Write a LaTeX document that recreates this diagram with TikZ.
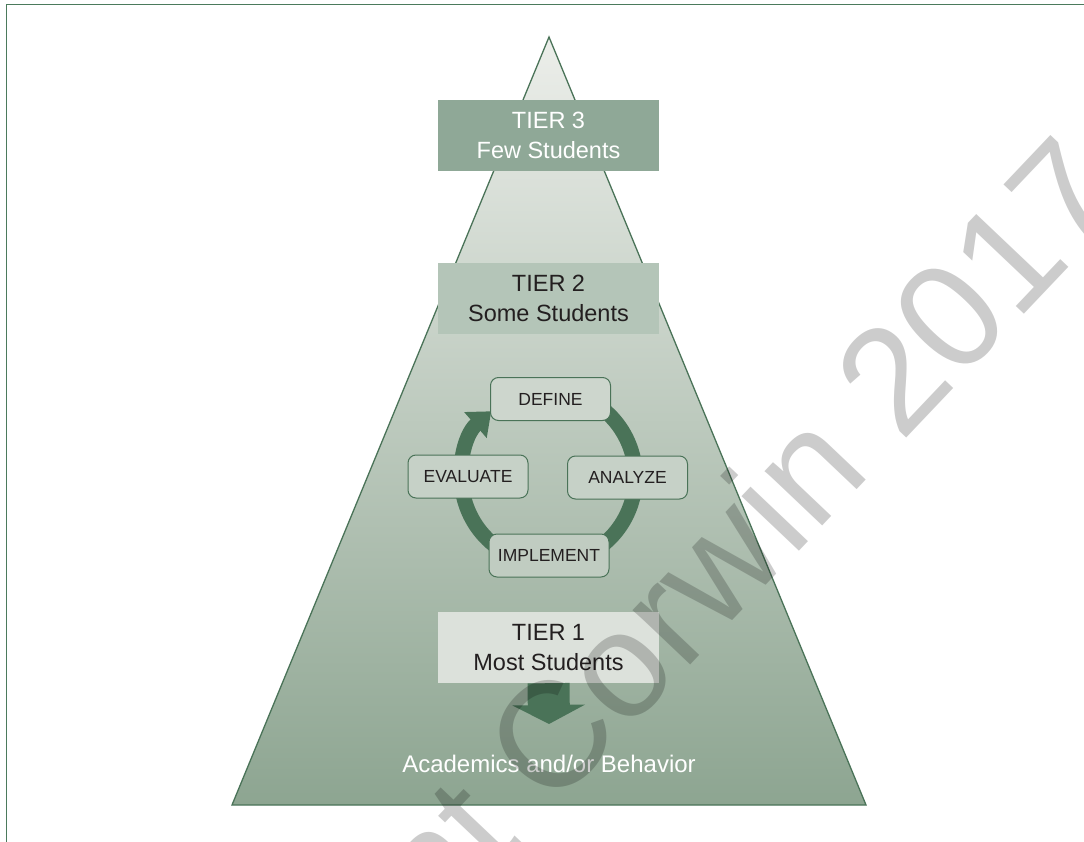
\documentclass[tikz,border=0pt]{standalone}
\usepackage{fontspec}
\setmainfont{Liberation Sans}
\usetikzlibrary{arrows.meta}
\definecolor{dkgreen}{HTML}{4A7358}
\definecolor{pyrtop}{HTML}{ECEEEA}
\definecolor{pyrbot}{HTML}{8DA591}
\definecolor{tierthree}{HTML}{8FA897}
\definecolor{tiertwo}{HTML}{B4C5B8}
\definecolor{tierone}{HTML}{DCE1DB}
\definecolor{framegreen}{HTML}{4B7A5C}
\definecolor{txt}{HTML}{231F20}
\definecolor{boxa}{HTML}{CDD6CD}
\definecolor{boxb}{HTML}{C6D1C7}
\definecolor{boxc}{HTML}{C0CCC1}
\begin{document}
\begin{tikzpicture}[x=1pt,y=-1pt,
  tierbox/.style={minimum width=221pt, minimum height=71pt, inner sep=0pt, align=center,
    font=\fontsize{23.5}{29.4}\selectfont},
  stepbox/.style={draw=dkgreen, line width=1pt, rounded corners=8pt,
    minimum width=120pt, minimum height=43pt, inner sep=0pt, text=txt,
    font=\fontsize{17.5}{20}\selectfont},
  ring/.style={draw=dkgreen, line width=15pt, -{Triangle[length=21pt,width=33pt]}},
  downarrow/.style={draw=dkgreen, line width=42pt, -{Triangle[length=19pt,width=72pt]}},
  watermark/.style={rotate=46.5, opacity=0.2, text=black, font=\fontsize{150}{150}\selectfont}
]
\useasboundingbox (0,0) rectangle (1084,842);
\fill[white] (0,0) rectangle (1084,842);
% frame
\draw[framegreen, line width=1.5pt] (6.5,842) -- (6.5,4.5) -- (1084,4.5);
% pyramid
\coordinate (apex) at (549,37);
\coordinate (bl) at (232,805);
\coordinate (br) at (866,805);
\shade[top color=pyrtop, bottom color=pyrbot] (apex) -- (br) -- (bl) -- cycle;
\draw[dkgreen, line width=1.3pt, line join=miter] (apex) -- (br) -- (bl) -- cycle;
% tier boxes
\node[tierbox, fill=tierthree, text=white] (t3) at (548.5,135.5) {TIER 3\\Few Students};
\node[tierbox, fill=tiertwo, text=txt] (t2) at (548.5,298.5) {TIER 2\\Some Students};
% cycle
\coordinate (cyc) at (548,476);
\draw[ring] ([shift={(-110:86)}]cyc) arc[start angle=-110, end angle=229, radius=87];
\node[stepbox, fill=boxa] (define) at (550.5,399) {DEFINE};
\node[stepbox, fill=boxb] (analyze) at (627.5,477.5) {ANALYZE};
\node[stepbox, fill=boxc] (implement) at (549,555.5) {IMPLEMENT};
\node[stepbox, fill=boxb] (evaluate) at (468,476.5) {EVALUATE};
% tier 1
\node[tierbox, fill=tierone, text=txt] (t1) at (548.5,647.5) {TIER 1\\Most Students};
\coordinate (arrtip) at (549,724);
\draw[downarrow] (t1.south) -- (arrtip);
\node[text=white, anchor=base, font=\fontsize{24}{28}\selectfont] (acad) at (549,772) {Academics and/or Behavior};
% watermark
\node[watermark] (wm) at (745,530) {nt Corwin 2017};
\end{tikzpicture}
\end{document}
